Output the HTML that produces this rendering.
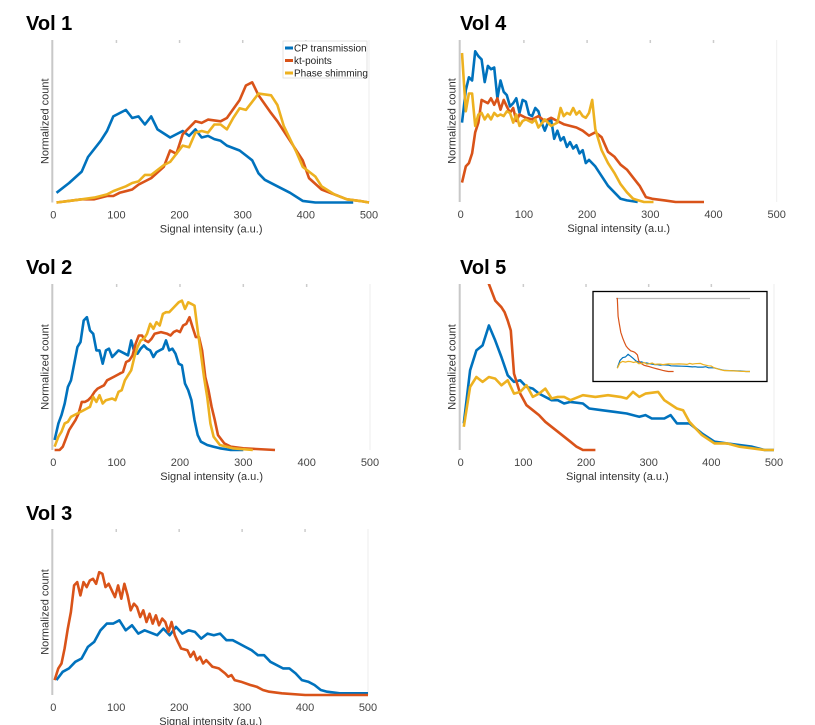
<!DOCTYPE html>
<html><head><meta charset="utf-8">
<style>
body{margin:0;background:#fff;width:815px;height:725px;overflow:hidden;font-family:"Liberation Sans",sans-serif;}
svg{display:block}
.tick{font-size:11px;fill:#444;text-anchor:middle}
.xl{font-size:11px;fill:#333;text-anchor:middle}
.title{font-size:20px;font-weight:bold;fill:#000}
.leg{font-size:10px;fill:#222}
</style></head>
<body>
<svg id="chart" width="815" height="725"></svg>
<script>
// x-values and normalized counts per volume & series
const xTicks = [0,100,200,300,400,500];
const tickLabels = ["0","100","200","300","400","500"];
const seriesNames = ["CP transmission","kt-points","Phase shimming"];

const v1BlueX = [5,25,45,55,75,85,95,115,125,135,145,155,165,185,205,215,225,235,245,255,265,275,295,305,315,325,335,355,375,395,415,455,475];
const v1BlueY = [.06,.12,.19,.28,.38,.44,.53,.57,.52,.53,.48,.53,.45,.40,.44,.41,.45,.40,.41,.39,.38,.35,.32,.29,.26,.18,.14,.10,.06,.01,.00,0,0];
const v1RedX = [5,25,45,65,85,95,105,125,135,155,175,185,195,205,215,225,235,245,265,275,295,305,315,325,345,355,375,395,405,425,445,465,485,500];
const v1RedY = [0,.01,.02,.02,.04,.04,.06,.08,.11,.15,.22,.32,.30,.42,.46,.50,.49,.51,.50,.52,.63,.72,.74,.66,.55,.50,.38,.26,.15,.08,.05,.02,.01,0];
const v1YelX = [5,25,45,65,85,95,115,125,135,145,155,165,175,185,195,205,215,225,235,245,255,265,275,285,295,305,315,325,345,355,365,385,395,415,425,445,465,485,500];
const v1YelY = [0,.01,.02,.03,.05,.07,.10,.12,.13,.17,.17,.20,.23,.25,.30,.35,.34,.43,.44,.43,.48,.48,.45,.52,.58,.57,.62,.67,.66,.60,.47,.31,.22,.16,.10,.05,.02,.01,0];

const v4BlueX = [2,8,13,18,23,28,33,38,43,48,53,58,63,68,73,78,83,88,93,98,103,108,113,118,123,128,133,138,143,148,153,158,163,168,173,178,183,188,193,198,203,213,223,233,243,253,263,280];
const v4BlueY = [.49,.69,.77,.75,.93,.90,.88,.74,.84,.82,.83,.64,.75,.68,.66,.59,.61,.64,.55,.63,.62,.54,.53,.58,.56,.49,.44,.49,.51,.39,.44,.38,.40,.34,.37,.33,.35,.30,.32,.24,.26,.22,.16,.10,.06,.02,.01,0];
const v4RedX = [2,8,13,18,23,28,33,38,43,48,53,58,63,68,73,78,83,88,93,103,113,123,133,143,153,163,173,183,193,203,213,223,233,243,253,263,273,283,293,303,323,340,385];
const v4RedY = [.12,.22,.24,.30,.43,.49,.63,.62,.61,.64,.60,.64,.57,.63,.59,.55,.58,.50,.54,.52,.51,.53,.50,.52,.50,.48,.47,.46,.44,.41,.43,.40,.31,.28,.23,.20,.15,.10,.03,.02,.01,0,0];
const v4YelX = [2,8,13,18,23,28,33,38,43,48,53,58,63,68,73,78,83,88,93,98,103,113,118,123,133,143,153,158,163,168,173,178,183,188,193,198,203,208,213,223,233,243,253,263,273,290,305];
const v4YelY = [.92,.56,.67,.67,.47,.54,.55,.51,.54,.51,.55,.53,.54,.53,.56,.55,.49,.54,.47,.50,.51,.49,.51,.46,.51,.47,.49,.58,.53,.55,.54,.58,.54,.56,.53,.52,.55,.63,.45,.32,.24,.18,.11,.06,.02,0,0];

const v2BlueX = [2,8,13,18,23,28,33,38,43,48,53,58,63,68,73,78,83,88,93,98,103,113,118,123,128,133,138,143,148,153,158,163,168,173,178,183,188,193,198,203,208,213,218,223,228,233,243,253,263,280,300];
const v2BlueY = [.06,.16,.21,.28,.38,.42,.52,.62,.65,.78,.80,.72,.70,.60,.60,.52,.60,.61,.56,.58,.60,.58,.57,.66,.59,.58,.61,.63,.61,.60,.56,.59,.60,.61,.66,.60,.61,.58,.52,.51,.40,.36,.30,.18,.09,.05,.03,.02,.01,0,0];
const v2RedX = [2,10,15,20,25,35,40,45,50,55,60,65,70,80,85,95,105,110,115,120,125,130,135,140,145,150,155,160,170,180,185,190,195,200,205,210,215,220,225,230,235,240,245,250,255,260,270,280,300,350];
const v2RedY = [0,0,.02,.07,.12,.18,.22,.29,.29,.30,.32,.35,.37,.39,.42,.44,.46,.47,.53,.54,.57,.64,.69,.69,.66,.65,.67,.70,.71,.70,.69,.71,.72,.71,.75,.76,.80,.74,.68,.68,.60,.44,.36,.26,.18,.09,.04,.02,.01,0];
const v2YelX = [2,8,13,18,23,28,38,48,53,58,63,68,73,78,83,93,98,103,108,113,118,123,128,133,138,143,148,153,158,163,168,173,178,183,188,193,198,203,208,213,218,223,228,233,238,243,248,253,263,283,315];
const v2YelY = [.02,.08,.11,.16,.17,.20,.22,.24,.25,.26,.32,.29,.33,.28,.30,.31,.30,.35,.36,.42,.45,.48,.56,.62,.66,.67,.70,.76,.73,.77,.75,.82,.83,.83,.85,.87,.89,.90,.85,.89,.88,.87,.72,.58,.44,.32,.16,.08,.03,.01,0];

const v5BlueX = [5,15,25,35,45,55,65,75,85,95,105,115,125,145,155,165,175,195,205,225,245,265,285,295,305,325,335,345,365,385,405,425,445,465,485,500];
const v5BlueY = [.16,.48,.60,.63,.75,.66,.56,.45,.41,.42,.38,.37,.34,.30,.30,.28,.29,.28,.25,.24,.23,.22,.20,.21,.19,.19,.21,.16,.16,.10,.05,.04,.03,.02,0,0];
const v5RedX = [5,8,12,18,25,32,38,45,55,65,70,75,80,85,95,105,115,125,135,145,155,165,175,185,195,215];
const v5RedY = [3.2,2.4,2.1,1.7,1.45,1.25,1.1,1.0,.90,.86,.83,.78,.72,.46,.34,.27,.24,.21,.17,.14,.11,.08,.05,.02,0,0];
const v5YelX = [5,15,25,35,45,55,65,75,85,95,105,115,125,135,145,155,165,175,195,215,235,255,265,275,285,295,315,325,345,355,365,385,405,425,445,465,485,500];
const v5YelY = [.14,.38,.44,.41,.44,.43,.39,.42,.34,.35,.39,.32,.34,.37,.31,.32,.32,.30,.33,.32,.33,.32,.31,.35,.32,.34,.35,.30,.25,.24,.17,.09,.04,.04,.02,.01,0,0];

const v3BlueX = [5,15,25,35,45,55,65,75,85,95,105,115,125,135,145,165,175,185,195,205,215,225,235,245,255,265,275,285,295,305,315,325,335,345,365,375,385,395,405,415,425,435,455,500];
const v3BlueY = [.09,.14,.16,.20,.22,.29,.32,.39,.43,.43,.45,.39,.42,.37,.39,.36,.40,.36,.41,.37,.39,.38,.34,.37,.36,.37,.33,.33,.31,.29,.27,.24,.24,.20,.16,.16,.13,.09,.08,.06,.03,.02,.01,.01];
const v3RedX = [2,8,13,18,23,28,33,38,43,48,53,58,63,68,73,78,83,88,93,98,103,108,113,118,123,128,133,138,143,148,153,158,163,168,173,178,183,188,193,198,203,213,218,223,228,233,238,243,253,263,273,278,283,288,298,313,323,333,343,363,400,500];
const v3RedY = [.09,.16,.19,.28,.40,.50,.66,.68,.60,.68,.65,.69,.70,.67,.74,.73,.65,.67,.63,.59,.66,.58,.67,.60,.51,.55,.53,.47,.51,.44,.49,.43,.48,.42,.46,.44,.38,.44,.36,.32,.28,.27,.23,.26,.21,.23,.19,.21,.17,.16,.13,.11,.12,.09,.08,.06,.05,.03,.02,.01,0,0];

const COL = ["#0072BD","#D95319","#EDB120"];
const NS = "http://www.w3.org/2000/svg";
const svg = document.getElementById("chart");
function mk(tag, attrs, parent){const e=document.createElementNS(NS,tag);for(const k in attrs)e.setAttribute(k,attrs[k]);(parent||svg).appendChild(e);return e;}

const panels = [
 {id:"vol-1",title:"Vol 1",tx:26,ty:30,x0:53.3,x1:369,yb:202.5,yt:40,series:[[v1BlueX,v1BlueY],[v1RedX,v1RedY],[v1YelX,v1YelY]],legend:true},
 {id:"vol-4",title:"Vol 4",tx:460,ty:30,x0:460.7,x1:776.7,yb:202,yt:40,series:[[v4BlueX,v4BlueY],[v4RedX,v4RedY],[v4YelX,v4YelY]]},
 {id:"vol-2",title:"Vol 2",tx:26,ty:274,x0:53.3,x1:370,yb:450,yt:284,series:[[v2BlueX,v2BlueY],[v2RedX,v2RedY],[v2YelX,v2YelY]]},
 {id:"vol-5",title:"Vol 5",tx:460,ty:274,x0:460.7,x1:774,yb:450,yt:284,series:[[v5BlueX,v5BlueY],[v5RedX,v5RedY],[v5YelX,v5YelY]],inset:true},
 {id:"vol-3",title:"Vol 3",tx:26,ty:520,x0:53.3,x1:368,yb:695,yt:529,series:[[v3BlueX,v3BlueY],[v3RedX,v3RedY]]}
];

panels.forEach((p,pi)=>{
  const g = mk("g",{});
  
  
  const sx = v => p.x0 + v/500*(p.x1-p.x0);
  const sy = v => p.yb - v*(p.yb-p.yt);
  const t = mk("text",{x:p.tx,y:p.ty,class:"title"},g); t.textContent=p.title;
  
  
  // right frame and top ticks
  mk("line",{x1:p.x1,y1:p.yt,x2:p.x1,y2:p.yb,stroke:"#eee","stroke-width":1},g);
  xTicks.forEach((v,i)=>{
    if(i>0&&i<5) mk("line",{x1:sx(v),y1:p.yt,x2:sx(v),y2:p.yt+3,stroke:"#ccc","stroke-width":1.5},g);
    const tl = mk("text",{x:sx(v),y:p.yb+16,class:"tick"},g); tl.textContent=tickLabels[i];
    
    
  });
  const yl = mk("line",{x1:p.x0-1,y1:p.yt,x2:p.x0-1,y2:p.yb,stroke:"#c8c8c8","stroke-width":2},g);
  
  
  const xt = mk("text",{x:(p.x0+p.x1)/2,y:p.yb+30,class:"xl"},g); xt.textContent="Signal intensity (a.u.)";
  
  
  const yt = mk("text",{x:0,y:0,class:"xl",transform:`translate(${p.x0-5},${(p.yt+p.yb)/2}) rotate(-90)`},g); yt.textContent="Normalized count";
  
  
  const cp = mk("clipPath",{id:"clip"+pi},g);
  mk("rect",{x:p.x0,y:p.yt,width:p.x1-p.x0+3,height:p.yb-p.yt+3},cp);
  p.series.forEach((s,si)=>{
    const pts = s[0].map((x,i)=>sx(x).toFixed(1)+","+sy(s[1][i]).toFixed(1)).join(" ");
    const pl = mk("polyline",{points:pts,fill:"none",stroke:COL[si],"stroke-width":2.6,"stroke-linejoin":"round","clip-path":`url(#clip${pi})`},g);
    
    
  });
  if(p.legend){
    const lg = mk("g",{},g);
    
    
    mk("rect",{x:283,y:41,width:84,height:37,fill:"#fff",stroke:"#ddd","stroke-width":0.8},lg);
    seriesNames.forEach((n,i)=>{
      const yy = 48+i*12.5;
      mk("line",{x1:285,y1:yy,x2:293,y2:yy,stroke:COL[i],"stroke-width":3},lg);
      const lt = mk("text",{x:294,y:yy+3.5,class:"leg"},lg); lt.textContent=n;
      
      
    });
  }
  if(p.inset){
    const ig = mk("g",{},g);
    
    
    mk("rect",{x:593,y:291.5,width:174,height:90,fill:"#fff",stroke:"#000","stroke-width":1.3},ig);
    const ix = v => 616 + v*0.268;
    const iy = v => 371.5 - v*23;
    mk("line",{x1:ix(0),y1:298.5,x2:ix(500),y2:298.5,stroke:"#bbb","stroke-width":1.2},ig);
    p.series.forEach((s,si)=>{
      const pts = s[0].map((x,i)=>ix(x).toFixed(1)+","+iy(s[1][i]).toFixed(1)).join(" ");
      const pl = mk("polyline",{points:pts,fill:"none",stroke:COL[si],"stroke-width":1.2},ig);
      
      
    });
  }
});
</script>
</body></html>
